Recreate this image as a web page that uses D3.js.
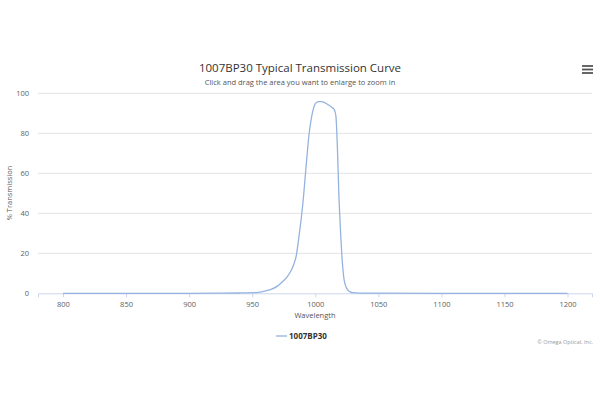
<!DOCTYPE html>
<html><head><meta charset="utf-8">
<script src="https://cdn.jsdelivr.net/npm/d3@7"></script>
<style>body{margin:0;background:#fff;} svg{display:block;}</style>
</head><body>
<svg id="c" width="600" height="400"></svg>
<script>
const titleText = "1007BP30 Typical Transmission Curve";
const subtitleText = "Click and drag the area you want to enlarge to zoom in";
const seriesName = "1007BP30";
const xTicks = [800, 850, 900, 950, 1000, 1050, 1100, 1150, 1200];
const yTicks = [0, 20, 40, 60, 80, 100];
const wavelengths = [800, 850, 900, 920, 940, 950, 955, 960, 965, 970, 974, 978, 981, 983, 985, 987, 989, 990.5, 992, 993.5, 995, 996.5, 998, 999.5, 1001, 1003, 1005, 1007, 1009, 1011, 1013, 1015, 1016.3, 1017, 1017.6, 1018.2, 1018.8, 1019.5, 1020.2, 1021, 1021.8, 1022.6, 1023.5, 1024.5, 1026, 1028, 1030, 1035, 1050, 1100, 1150, 1200];
const transmission = [0, 0, 0, 0.05, 0.15, 0.3, 0.5, 1.1, 2, 3.6, 5.8, 8.5, 11.5, 14.5, 19, 28, 38, 47, 58, 69, 79, 86, 91, 94.2, 95.4, 95.8, 95.8, 95.5, 94.8, 94, 93, 92, 89, 82, 72, 60, 48, 38, 29, 20, 13, 8, 5, 3, 1.5, 0.6, 0.3, 0.1, 0.05, 0, 0, 0];

const font = "'Open Sans', 'DejaVu Sans', sans-serif";
const svg = d3.select("#c");
const x = d3.scaleLinear().domain([780.2, 1219.4]).range([38, 592]);
const y = d3.scaleLinear().domain([0, 100]).range([293.3, 93.3]);

// gridlines
svg.append("g").selectAll("line").data(yTicks.filter(d => d > 0)).join("line")
  .attr("x1", 38).attr("x2", 592)
  .attr("y1", d => y(d)).attr("y2", d => y(d))
  .attr("stroke", "#e3e3e3").attr("stroke-width", 1);

// y axis labels
svg.append("g").selectAll("text").data(yTicks).join("text")
  .attr("x", 29).attr("y", d => y(d) + 2.5)
  .attr("text-anchor", "end").attr("font-family", font).attr("font-size", 7.5)
  .attr("fill", "#606060").text(d => d);

// x axis
const xAxis = d3.axisBottom(x).tickValues(xTicks).tickSize(4).tickFormat(d => d);
const gx = svg.append("g").attr("transform", `translate(0,${y(0)})`).call(xAxis);
gx.select(".domain").attr("stroke", "#ccd6eb");
gx.selectAll(".tick line").attr("stroke", "#ccd6eb");
gx.selectAll(".tick text").attr("font-family", font).attr("font-size", 7.5).attr("fill", "#606060").attr("dy", "0.9em");

// line
const line = d3.line().x((d, i) => x(wavelengths[i])).y(d => y(d)).curve(d3.curveMonotoneX);
svg.append("path").datum(transmission).attr("d", line)
  .attr("fill", "none").attr("stroke", "#95b3de").attr("stroke-width", 1.3);

// titles
svg.append("text").attr("x", 300).attr("y", 72).attr("text-anchor", "middle")
  .attr("font-family", font).attr("font-size", 11.5).attr("fill", "#333").text(titleText);
svg.append("text").attr("x", 300).attr("y", 85).attr("text-anchor", "middle")
  .attr("font-family", font).attr("font-size", 7.5).attr("fill", "#555").text(subtitleText);
svg.append("text").attr("x", 315).attr("y", 318).attr("text-anchor", "middle")
  .attr("font-family", font).attr("font-size", 7.5).attr("fill", "#555").text("Wavelength");
svg.append("text").attr("transform", "translate(12,193) rotate(-90)").attr("text-anchor", "middle")
  .attr("font-family", font).attr("font-size", 7.5).attr("fill", "#555").text("% Transmission");

// legend
svg.append("line").attr("x1", 276).attr("x2", 287).attr("y1", 336).attr("y2", 336)
  .attr("stroke", "#95b3de").attr("stroke-width", 1.3);
svg.append("text").attr("x", 289).attr("y", 338.8).attr("font-family", font).attr("font-size", 8)
  .attr("font-weight", "bold").attr("fill", "#333").text(seriesName);

// credit
svg.append("text").attr("x", 593).attr("y", 344).attr("text-anchor", "end")
  .attr("font-family", font).attr("font-size", 5.5).attr("fill", "#999").text("© Omega Optical, Inc.");

// menu icon
svg.append("g").selectAll("line").data([66, 69.5, 73]).join("line")
  .attr("x1", 582).attr("x2", 593).attr("y1", d => d).attr("y2", d => d)
  .attr("stroke", "#555").attr("stroke-width", 1.8);
</script>
</body></html>
